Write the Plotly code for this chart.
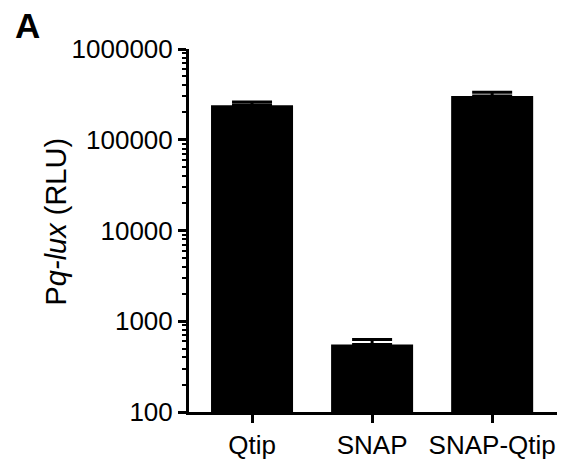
import plotly.graph_objects as go

categories = ["Qtip", "SNAP", "SNAP-Qtip"]
means = [240000, 555, 303000]
errors = [20000, 75, 30000]
ytickvals = [100, 1000, 10000, 100000, 1000000]
yticktext = ["100", "1000", "10000", "100000", "1000000"]

FONT = "Liberation Sans, Arial, Helvetica, sans-serif"

# plot-area pixel geometry (window pixels)
L, R, T, B = 189, 557, 49, 412
W, H = 568, 462

fig = go.Figure()
fig.add_trace(go.Bar(
    x=categories, y=means,
    marker=dict(color="black", line=dict(width=0)),
    width=0.683,
    error_y=dict(type="data", array=errors, arrayminus=[0, 0, 0], symmetric=False,
                 color="black", thickness=3, width=20),
))

fig.update_layout(
    width=W, height=H,
    margin=dict(l=L, r=W - R, t=T, b=H - B, pad=0, autoexpand=False),
    paper_bgcolor="white", plot_bgcolor="white",
    showlegend=False,
    font=dict(family=FONT, color="black"),
    xaxis=dict(
        range=[-0.525, 2.54], automargin=False,
        showline=True, linecolor="black", linewidth=3,
        ticks="outside", ticklen=8, tickwidth=3, tickcolor="black",
        tickfont=dict(size=26, family=FONT, color="black"),
        showgrid=False, zeroline=False,
    ),
    yaxis=dict(
        type="log", range=[2, 6], automargin=False,
        showline=True, linecolor="black", linewidth=3,
        tickvals=ytickvals, ticktext=yticktext,
        ticks="outside", ticklen=8, tickwidth=3, tickcolor="black",
        tickfont=dict(size=26, family=FONT, color="black"),
        minor=dict(ticks="outside", ticklen=4, tickwidth=2, tickcolor="black",
                   dtick="D1", showgrid=False),
        showgrid=False, zeroline=False,
    ),
    annotations=[
        dict(text="P<i>q-lux</i> (RLU)", textangle=-90,
             xref="paper", yref="paper",
             x=(55 - L) / (R - L), y=(B - 221.5) / (B - T),
             xanchor="center", yanchor="middle", showarrow=False,
             font=dict(size=29, family=FONT, color="black")),
        dict(text="<b>A</b>", xref="paper", yref="paper",
             x=(27 - L) / (R - L), y=(B - 26) / (B - T),
             xanchor="center", yanchor="middle", showarrow=False,
             font=dict(size=35, family=FONT, color="black")),
    ],
)

fig.write_html("out.html",
               config={"displayModeBar": False},
               post_script="document.body.style.margin='0';document.body.style.overflow='hidden';")
